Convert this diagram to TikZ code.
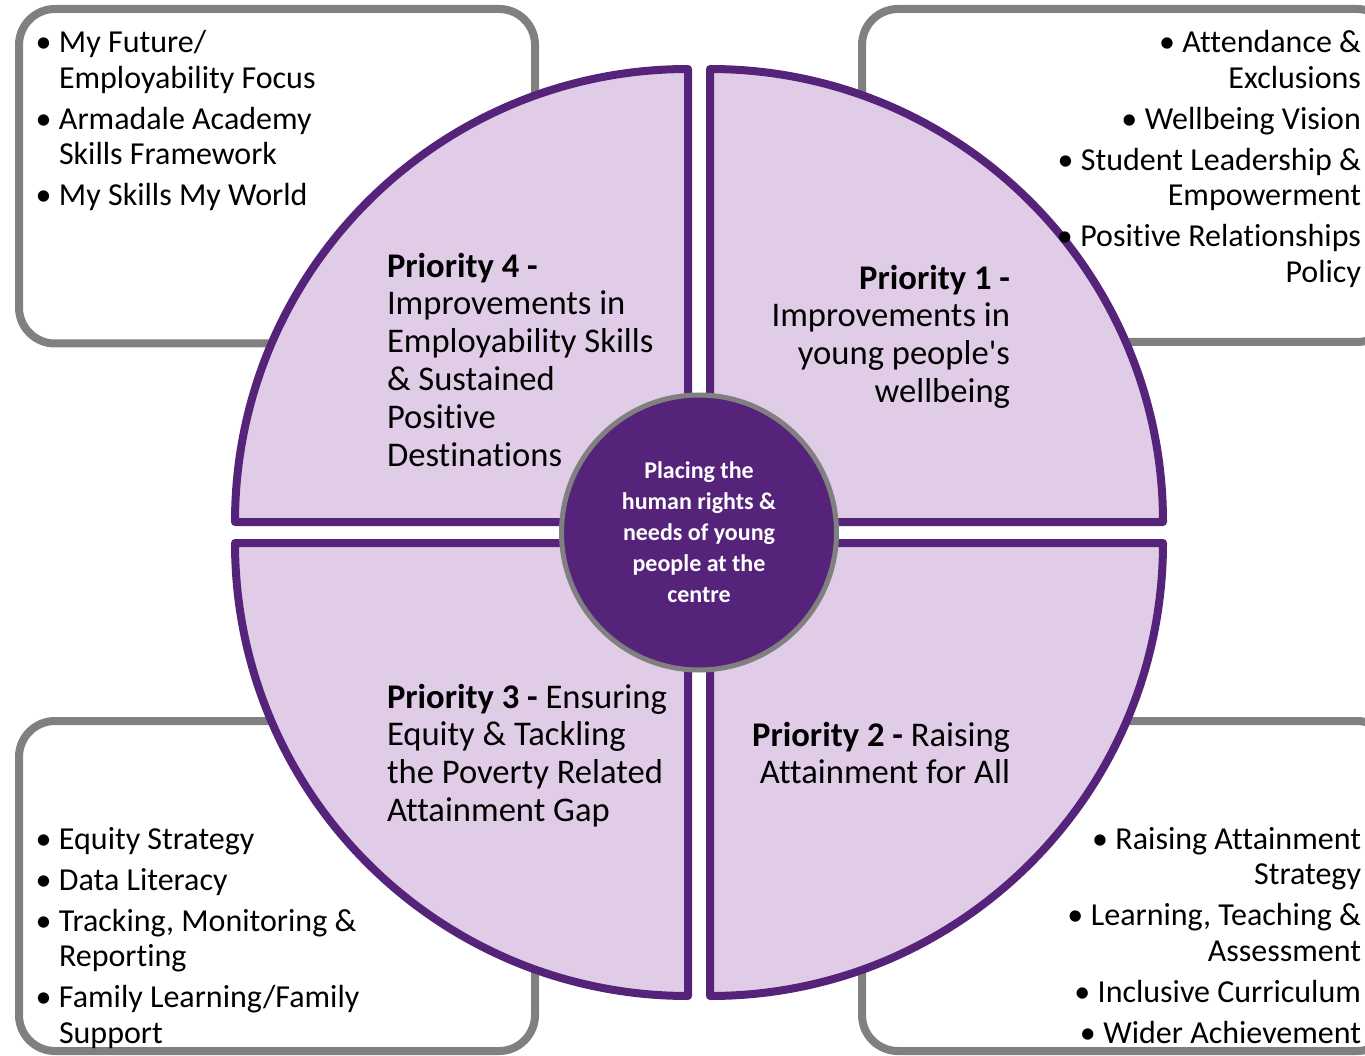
\documentclass[tikz,border=0pt]{standalone}
\usepackage{fontspec}
\setmainfont{Carlito}[Ligatures={TeX,NoCommon}]
\definecolor{qpurple}{RGB}{85,36,122}
\definecolor{qfill}{RGB}{225,204,232}
\definecolor{boxgray}{RGB}{128,128,128}
\newcommand\blt{\makebox[0pt][r]{\textbullet\hspace{7.5pt}}}
\newcommand\bst{\rule{0pt}{28pt}}
\newcommand\pst{\rule{0pt}{30pt}}
\tikzset{
 sidebox/.style={draw=boxgray, line width=8pt, rounded corners=36pt, rectangle, inner sep=0pt, outer sep=0pt, anchor=north west},
 quad/.style={draw=qpurple, fill=qfill, line width=8pt, line join=round},
 hub/.style={circle, draw=boxgray, line width=5pt, fill=qpurple, minimum size=275pt, inner sep=0pt, text=white, align=center, font=\fontsize{24}{31}\selectfont\bfseries},
 listtxt/.style={inner sep=0pt, outer sep=0pt, font=\fontsize{32}{35.5}\selectfont},
 prio/.style={inner sep=0pt, outer sep=0pt, font=\fontsize{34.6}{37.8}\selectfont},
}
\begin{document}
\begin{tikzpicture}[x=1pt,y=-1pt]
\useasboundingbox (0,0) rectangle (1365,1056);
\fill[white] (0,0) rectangle (1365,1056);
% side boxes
\node[sidebox, minimum width=516pt, minimum height=334.5pt] (boxTL) at (19,9) {};
\node[sidebox, minimum width=531pt, minimum height=333pt] (boxTR) at (862,9) {};
\node[sidebox, minimum width=516pt, minimum height=330pt] (boxBL) at (19,721) {};
\node[sidebox, minimum width=531pt, minimum height=330pt] (boxBR) at (862,721) {};
% quadrants
\draw[quad] (688,522) -- ++(-453,0) arc[start angle=180, end angle=270, radius=453] -- cycle;
\draw[quad] (710,522) -- ++(0,-453) arc[start angle=270, end angle=360, radius=453] -- cycle;
\draw[quad] (710,543) -- ++(453,0) arc[start angle=0, end angle=90, radius=453] -- cycle;
\draw[quad] (688,543) -- ++(0,453) arc[start angle=90, end angle=180, radius=453] -- cycle;
% hub
\node[hub] (hub) at (699,532.5) {Placing the\\human rights \&\\needs of young\\people at the\\centre};
% lists
\node[listtxt, anchor=north west, align=left] (listTL) at (59,25)
 {\bst\blt My Future/\\ Employability Focus\\[5.5pt] \blt Armadale Academy\\ Skills Framework\\[5.5pt] \blt My Skills My World};
\node[listtxt, anchor=north east, align=right] (listTR) at (1361,25)
 {\bst\blt Attendance \&\\ Exclusions\\[5.5pt] \blt Wellbeing Vision\\[5.5pt] \blt Student Leadership \&\\ Empowerment\\[5.5pt] \blt Positive Relationships\\ Policy};
\node[listtxt, anchor=north west, align=left] (listBL) at (59,821)
 {\bst\blt Equity Strategy\\[5.5pt] \blt Data Literacy\\[5.5pt] \blt Tracking, Monitoring \&\\ Reporting\\[5.5pt] \blt Family Learning/Family\\ Support};
\node[listtxt, anchor=north east, align=right] (listBR) at (1361,821)
 {\bst\blt Raising Attainment\\ Strategy\\[5.5pt] \blt Learning, Teaching \&\\ Assessment\\[5.5pt] \blt Inclusive Curriculum\\[5.5pt] \blt Wider Achievement};
% priorities
\node[prio, anchor=north west, align=left] (p4) at (387,247)
 {\pst\textbf{Priority 4 -}\\ Improvements in\\ Employability Skills\\ \& Sustained\\ Positive\\ Destinations};
\node[prio, anchor=north east, align=right] (p1) at (1010,259)
 {\pst\textbf{Priority 1 -}\\ Improvements in\\ young people\textquotesingle s\\ wellbeing};
\node[prio, anchor=north west, align=left] (p3) at (387,678)
 {\pst\textbf{Priority 3 -} Ensuring\\ Equity \& Tackling\\ the Poverty Related\\ Attainment Gap};
\node[prio, anchor=north east, align=right] (p2) at (1010,716)
 {\pst\textbf{Priority 2 -} Raising\\ Attainment for All};
\end{tikzpicture}
\end{document}
